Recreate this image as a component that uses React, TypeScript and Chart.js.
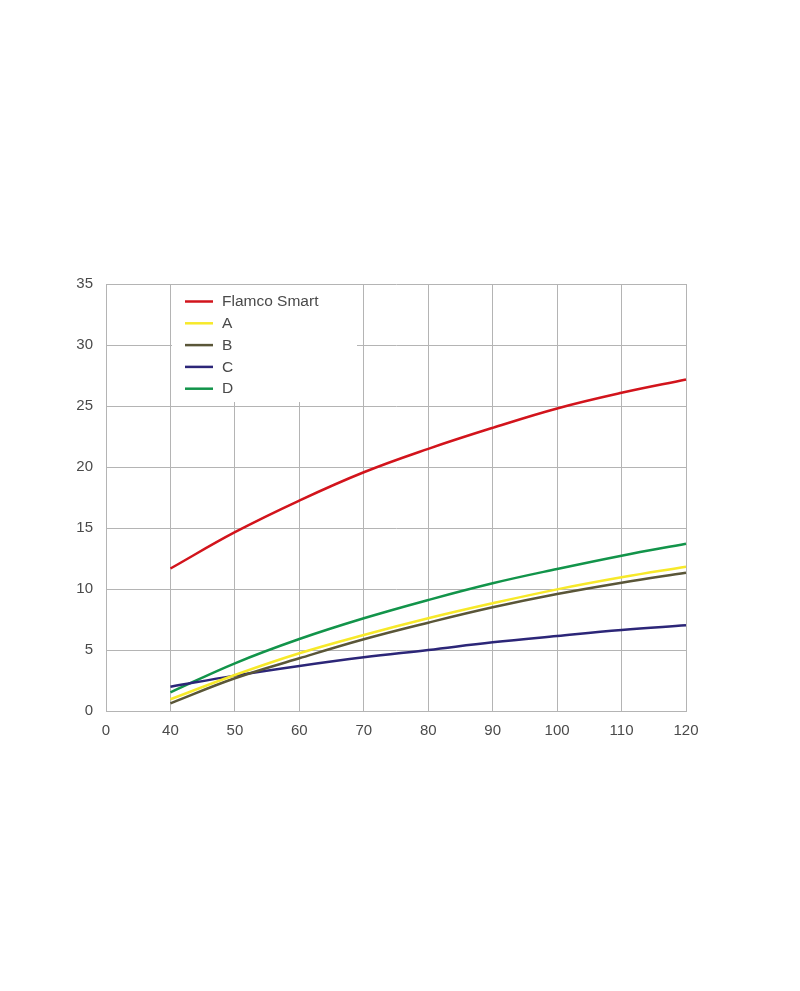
import { useEffect, useRef } from 'react';
import { Chart, registerables } from 'chart.js';

Chart.register(...registerables);

const xLabels = ['0', '40', '50', '60', '70', '80', '90', '100', '110', '120'];
const seriesNames = ['Flamco Smart', 'A', 'B', 'C', 'D'];
const seriesColors = ['#d2141c', '#f7e92a', '#5a5638', '#2c2678', '#12944a'];

const flamcoSmart = [null, 11.68, 14.66, 17.25, 19.57, 21.49, 23.21, 24.8, 26.08, 27.17];
const seriesA = [null, 0.96, 2.95, 4.73, 6.23, 7.6, 8.83, 9.97, 10.96, 11.83];
const seriesB = [null, 0.63, 2.68, 4.32, 5.88, 7.24, 8.5, 9.59, 10.52, 11.34];
const seriesC = [null, 1.99, 2.9, 3.69, 4.4, 5.0, 5.63, 6.15, 6.64, 7.02];
const seriesD = [null, 1.53, 3.91, 5.9, 7.6, 9.1, 10.47, 11.64, 12.73, 13.71];

const FONT = '"Liberation Sans", Arial, sans-serif';

// legend drawn inside the plot area, on a white box
const insideLegend = {
	id: 'insideLegend',
	afterDraw(chart: Chart) {
		const { ctx, chartArea } = chart;
		const x0 = chartArea.left + 66;
		const y0 = chartArea.top + 1;
		ctx.save();
		ctx.fillStyle = '#ffffff';
		ctx.fillRect(x0, y0, 185, 117);
		ctx.font = `15.5px ${FONT}`;
		ctx.textBaseline = 'middle';
		seriesNames.forEach((name, i) => {
			const y = chartArea.top + 17.5 + i * 21.8;
			ctx.strokeStyle = seriesColors[i];
			ctx.lineWidth = 2.5;
			ctx.beginPath();
			ctx.moveTo(chartArea.left + 79, y);
			ctx.lineTo(chartArea.left + 107, y);
			ctx.stroke();
			ctx.fillStyle = '#4a4a4a';
			ctx.fillText(name, chartArea.left + 116, y + 0.5);
		});
		ctx.restore();
	},
};

export default function App() {
	const canvasRef = useRef<HTMLCanvasElement | null>(null);
	const chartInstance = useRef<Chart | null>(null);

	useEffect(() => {
		const ctx = canvasRef.current?.getContext('2d');
		if (chartInstance.current) {
			chartInstance.current.destroy();
		}
		if (ctx) {
			const allData = [flamcoSmart, seriesA, seriesB, seriesC, seriesD];
			chartInstance.current = new Chart(ctx, {
				type: 'line',
				data: {
					labels: xLabels,
					datasets: seriesNames.map((name, i) => ({
						label: name,
						data: allData[i],
						borderColor: seriesColors[i],
						backgroundColor: seriesColors[i],
						borderWidth: 2.5,
						pointRadius: 0,
						tension: 0.4,
						fill: false,
					})),
				},
				options: {
					animation: false,
					responsive: true,
					maintainAspectRatio: false,
					layout: {
						padding: { left: 40, top: 284, right: 114, bottom: 250 },
					},
					plugins: {
						legend: { display: false },
						tooltip: { enabled: false },
					},
					scales: {
						x: {
							type: 'category',
							offset: false,
							grid: { color: '#b4b4b4', lineWidth: 1, drawTicks: false },
							border: { color: '#b4b4b4' },
							ticks: {
								color: '#4a4a4a',
								font: { family: FONT, size: 15 },
								padding: 11,
								maxRotation: 0,
								autoSkip: false,
							},
							afterFit(scale) {
								scale.height = 30;
							},
						},
						y: {
							min: 0,
							max: 35,
							grid: { color: '#b4b4b4', lineWidth: 1, drawTicks: false },
							border: { color: '#b4b4b4' },
							ticks: {
								stepSize: 5,
								color: '#4a4a4a',
								font: { family: FONT, size: 15 },
								padding: 13,
							},
							afterFit(scale) {
								scale.width = 66;
							},
						},
					},
				},
				plugins: [insideLegend],
			});
		}
		return () => {
			if (chartInstance.current) {
				chartInstance.current.destroy();
				chartInstance.current = null;
			}
		};
	}, []);

	return (
		<div style={{ position: 'fixed', left: 0, top: 0, width: 800, height: 991, background: '#fff' }}>
			<canvas ref={canvasRef}></canvas>
		</div>
	);
}
